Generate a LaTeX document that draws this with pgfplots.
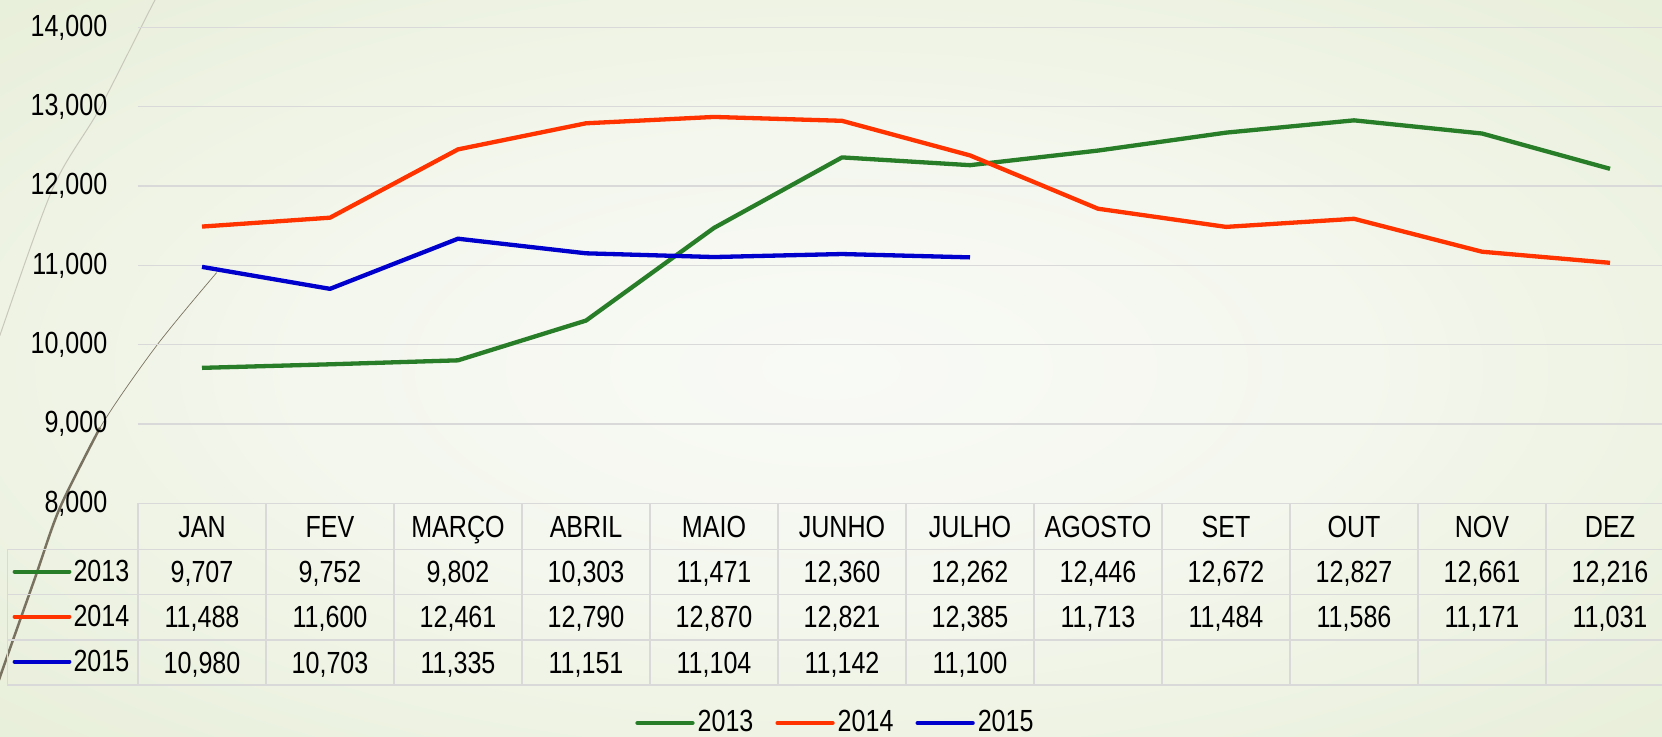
\documentclass[border=0pt]{standalone}
\usepackage{pgfplots}
\pgfplotsset{compat=1.18}
\usepackage{pgfplotstable}
\usepackage{fontspec}
\setmainfont{Liberation Sans}[FakeStretch=0.82]
\definecolor{c13}{RGB}{40,125,40}
\definecolor{c14}{RGB}{255,51,0}
\definecolor{c15}{RGB}{0,0,204}
\definecolor{gridc}{RGB}{217,217,217}
\definecolor{arcgrey}{RGB}{200,200,186}
\definecolor{arcbrown}{RGB}{122,114,96}
\pgfdeclareradialshading{bgshade}{\pgfpoint{0bp}{0bp}}{rgb(0bp)=(0.975,0.98,0.965); rgb(16bp)=(0.955,0.968,0.93); rgb(50bp)=(0.875,0.912,0.795)}

\pgfplotstableread{
x y
0 9707
1 9752
2 9802
3 10303
4 11471
5 12360
6 12262
7 12446
8 12672
9 12827
10 12661
11 12216
}\tA
\pgfplotstableread{
x y
0 11488
1 11600
2 12461
3 12790
4 12870
5 12821
6 12385
7 11713
8 11484
9 11586
10 11171
11 11031
}\tB
\pgfplotstableread{
x y
0 10980
1 10703
2 11335
3 11151
4 11104
5 11142
6 11100
}\tC

\begin{document}
\begin{tikzpicture}[font=\fontsize{8.7}{10}\selectfont]
\shade[shading=bgshade] (-13.8mm,-23.37mm) rectangle (152.4mm,50.33mm);
\draw[arcgrey, line width=0.1mm] plot[smooth] coordinates {(2.6mm,51.5mm) (1.7mm,50.33mm) (-3.8mm,39.53mm) (-8.5mm,31.53mm) (-13.8mm,16.83mm) (-14.5mm,14.5mm)};
\draw[arcbrown, line width=0.07mm] plot[smooth] coordinates {(7.87mm,23.07mm) (1.87mm,15.78mm) (-3.8mm,7.56mm) (-7.8mm,-0.43mm)};
\draw[arcbrown, line width=0.25mm] plot[smooth] coordinates {(-3.8mm,7.56mm) (-7.8mm,-0.43mm) (-10.3mm,-7.47mm) (-13.8mm,-17.36mm) (-14.3mm,-19mm)};

% table grid
\foreach \i in {0,...,12} \draw[gridc, line width=0.12mm] (\i*12.8mm,0mm) -- (\i*12.8mm,-18.17mm);
\foreach \yy in {4.6,9.1,13.67,18.17} \draw[gridc, line width=0.12mm] (-13.07mm,-\yy mm) -- (153.6mm,-\yy mm);
\draw[gridc, line width=0.12mm] (-13.07mm,-4.6mm) -- (-13.07mm,-18.17mm);
\draw[c13, line width=0.42mm, line cap=round] (-12.33mm,-6.84mm) -- (-6.87mm,-6.84mm);
\draw[c14, line width=0.42mm, line cap=round] (-12.33mm,-11.34mm) -- (-6.87mm,-11.34mm);
\draw[c15, line width=0.42mm, line cap=round] (-12.33mm,-15.84mm) -- (-6.87mm,-15.84mm);
\node[anchor=base east, inner sep=0pt] at (-0.8mm,-7.84mm) {2013};
\node[anchor=base east, inner sep=0pt] at (-0.8mm,-12.34mm) {2014};
\node[anchor=base east, inner sep=0pt] at (-0.8mm,-16.84mm) {2015};

\begin{axis}[
  at={(0,0)}, anchor=south west, scale only axis,
  width=153.6mm, height=47.6mm,
  xmin=-0.5, xmax=11.5, ymin=8000, ymax=14000,
  enlargelimits=false, clip=false,
  axis line style={draw=none}, major tick length=0pt,
  scaled y ticks=false,
  ytick={8000,9000,...,14000},
  ymajorgrids, grid style={gridc, line width=0.12mm},
  yticklabel style={anchor=east, inner sep=0pt, xshift=-3mm},
  xtick={0,...,11},
  xticklabels={JAN,FEV,MARÇO,ABRIL,MAIO,JUNHO,JULHO,AGOSTO,SET,OUT,NOV,DEZ},
  xticklabel style={anchor=base, inner sep=0pt, yshift=-3.4mm},
  /pgf/number format/1000 sep={,},
  /pgf/number format/assume math mode=true,
  legend columns=3,
  legend style={draw=none, fill=none, at={(0.4544,-0.4616)}, anchor=center,
    /tikz/every even column/.append style={column sep=1.9mm},
    nodes={inner sep=0.3mm}},
  legend image code/.code={\draw[#1, line cap=round] (0mm,0mm) -- (5.5mm,0mm);},
  every node near coord/.append style={anchor=base, inner sep=0pt, text=black},
]
\addplot[c13, line width=0.43mm, line join=round, mark=none] table[x=x,y=y] {\tA};
\addlegendentry{2013}
\addplot[c14, line width=0.43mm, line join=round, mark=none] table[x=x,y=y] {\tB};
\addlegendentry{2014}
\addplot[c15, line width=0.43mm, line join=round, mark=none] table[x=x,y=y] {\tC};
\addlegendentry{2015}

\addplot[draw=none, mark=none, forget plot, nodes near coords, point meta=explicit] table[x=x, y expr=7000, meta=y] {\tA};
\addplot[draw=none, mark=none, forget plot, nodes near coords, point meta=explicit] table[x=x, y expr=6431, meta=y] {\tB};
\addplot[draw=none, mark=none, forget plot, nodes near coords, point meta=explicit] table[x=x, y expr=5859, meta=y] {\tC};
\end{axis}
\pgfresetboundingbox
\path[use as bounding box] (-13.8mm,-23.37mm) rectangle (152.4mm,50.33mm);
\end{tikzpicture}
\end{document}
